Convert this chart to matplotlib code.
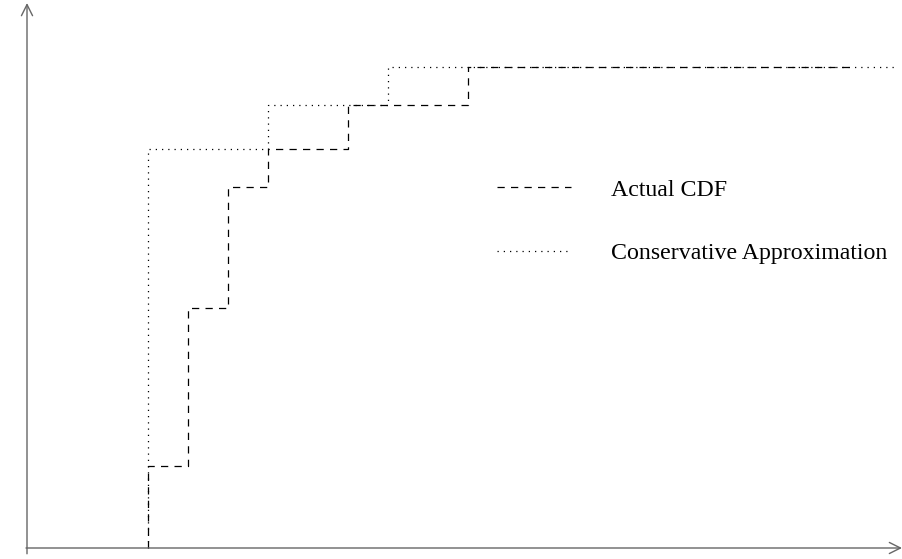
import matplotlib
matplotlib.use("Agg")
import matplotlib.pyplot as plt

# step positions (arbitrary units) and cumulative probabilities
actual_x = [0, 0, 1, 2, 3, 5, 8, 17.55]
actual_y = [0, 0.17, 0.50, 0.75, 0.83, 0.92, 1.0, 1.0]

conserv_x = [0, 0, 3, 6, 18.7]
conserv_y = [0, 0.83, 0.92, 1.0, 1.0]

labels = ["Actual CDF", "Conservative Approximation"]

plt.rcParams["font.family"] = ["Liberation Serif", "DejaVu Serif"]

fig = plt.figure(figsize=(9.03, 5.59), dpi=100)
ax = fig.add_axes([0, 0, 1, 1])
ax.set_xlim(-3.7, 18.875)
ax.set_ylim(-11 / 481, 548 / 481)
ax.axis("off")

# axes with open arrow heads
gray = "0.4"
ax.annotate("", xy=(18.85, 0), xytext=(-3.05, 0),
            arrowprops=dict(arrowstyle="->", color=gray, lw=1.0,
                            shrinkA=0, shrinkB=0, mutation_scale=20))
ax.annotate("", xy=(-3.025, 1.133), xytext=(-3.025, -0.012),
            arrowprops=dict(arrowstyle="->", color=gray, lw=1.0,
                            shrinkA=0, shrinkB=0, mutation_scale=20))

ax.step(actual_x, actual_y, where="post", color="black", lw=0.9,
        dashes=(5.8, 5.0), label=labels[0])
ax.step(conserv_x, conserv_y, where="post", color="black", lw=0.9,
        dashes=(1.0, 4.0), label=labels[1])

ax.legend(loc="upper left", bbox_to_anchor=(0.550, 0.680), frameon=False,
          fontsize=17.2, handlelength=3.1, handletextpad=1.7,
          labelspacing=1.75, borderpad=0, borderaxespad=0)

fig.savefig("out.png", dpi=100)
